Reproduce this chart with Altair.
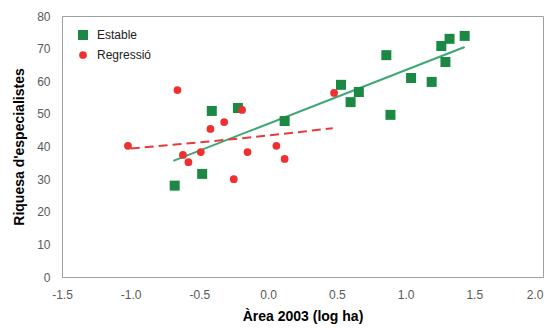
import altair as alt
import pandas as pd

# Estable (green squares)
est_x = [-0.68, -0.48, -0.41, -0.22, 0.12, 0.53, 0.60, 0.66, 0.86, 0.89, 1.04, 1.19, 1.26, 1.29, 1.32, 1.43]
est_y = [28.0, 31.6, 50.9, 51.8, 47.8, 58.9, 53.6, 56.7, 68.0, 49.7, 61.0, 59.8, 70.8, 65.9, 73.0, 73.9]
# Regressió (red circles)
reg_x = [-1.02, -0.66, -0.62, -0.58, -0.49, -0.42, -0.32, -0.25, -0.19, -0.15, 0.06, 0.12, 0.48]
reg_y = [40.2, 57.3, 37.4, 35.2, 38.3, 45.4, 47.5, 30.0, 51.2, 38.3, 40.2, 36.2, 56.4]

# Trend lines
est_trend_x = [-0.69, 1.43]
est_trend_y = [35.6, 70.5]
reg_trend_x = [-1.0, -0.27, 0.47]
reg_trend_y = [39.4, 42.2, 45.6]

series = ["Estable", "Regressió"]
colors = ["#1B8943", "#EE3030"]
x_ticks = [-1.5, -1.0, -0.5, 0.0, 0.5, 1.0, 1.5, 2.0]
y_ticks = [0, 10, 20, 30, 40, 50, 60, 70, 80]

pts = pd.DataFrame({
    "x": est_x + reg_x,
    "y": est_y + reg_y,
    "serie": ["Estable"] * len(est_x) + ["Regressió"] * len(reg_x),
})
t_est = pd.DataFrame({"x": est_trend_x, "y": est_trend_y})
t_reg = pd.DataFrame({"x": reg_trend_x, "y": reg_trend_y})

FONT = "Liberation Sans"

xscale = alt.Scale(domain=[-1.5, 2.0], nice=False, zero=False)
yscale = alt.Scale(domain=[0, 80], nice=False)

xaxis = alt.Axis(
    title="Àrea 2003 (log ha)",
    values=x_ticks,
    labelExpr="replace(format(datum.value, '.1f'), '−', '-')",
    labelAlign={"condition": {"test": "datum.value >= 2", "value": "right"}, "value": "center"},
    grid=False, ticks=False, labelPadding=12, titlePadding=9,
    labelFlush=False, labelOverlap=False,
)
yaxis = alt.Axis(
    title="Riquesa d'especialistes",
    values=y_ticks, tickCount=9,
    grid=False, ticks=False, labelPadding=12, titlePadding=10,
    labelFlush=False, labelOverlap=False,
)

X = alt.X("x:Q", scale=xscale, axis=xaxis)
Y = alt.Y("y:Q", scale=yscale, axis=yaxis)

line_est = alt.Chart(t_est).mark_line(color="#3DA876", strokeWidth=2).encode(x=X, y=Y)
line_reg = alt.Chart(t_reg).mark_line(
    color="#E83A3A", strokeWidth=2, strokeDash=[9, 5], interpolate="monotone"
).encode(x=X, y=Y)

legend = alt.Legend(
    title=None, orient="none", legendX=15, legendY=13,
    labelFontSize=12, labelFont=FONT, labelColor="#222222",
    rowPadding=8, symbolStrokeWidth=0, labelOffset=8,
)

points = alt.Chart(pts).mark_point(filled=True, opacity=1, strokeWidth=0).encode(
    x=X, y=Y,
    color=alt.Color("serie:N", scale=alt.Scale(domain=series, range=colors), legend=legend),
    shape=alt.Shape("serie:N", scale=alt.Scale(domain=series, range=["square", "circle"]), legend=legend),
    size=alt.Size("serie:N", scale=alt.Scale(domain=series, range=[100, 60]), legend=legend),
)

chart = alt.layer(line_est, line_reg, points).properties(
    width=481, height=261,
    autosize=alt.AutoSizeParams(type="none"),
    padding={"left": 54, "top": 8, "right": 1, "bottom": 50},
).configure_view(
    stroke="#A0A0A0", strokeWidth=1,
).configure_axis(
    labelFont=FONT, titleFont=FONT, labelFontSize=12, titleFontSize=14,
    labelColor="#595959", titleColor="#000000", titleFontWeight="bold",
    domainColor="#A0A0A0", domainWidth=1,
)

chart.save("out.html", embed_options={"renderer": "svg", "actions": False})
